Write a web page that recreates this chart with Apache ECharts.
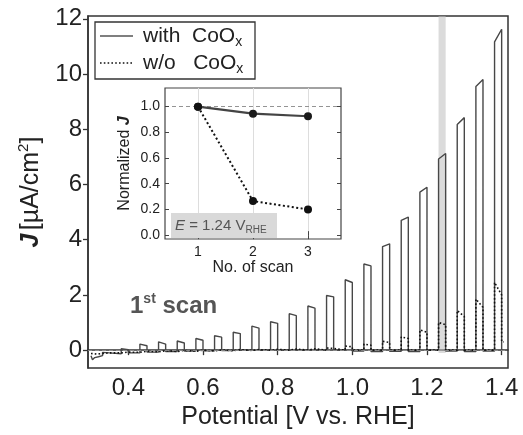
<!DOCTYPE html>
<html>
<head>
<meta charset="utf-8">
<script src="https://cdn.jsdelivr.net/npm/echarts@6/dist/echarts.min.js"></script>
<style>html,body{margin:0;padding:0;background:#fff}#c{width:523px;height:435px}</style>
</head>
<body>
<div id="c"></div>
<script>
// ---- main chart data (chopped-light LSV, 1st scan) ----
const pulseOn  = [0.331,0.381,0.431,0.481,0.531,0.581,0.631,0.681,0.731,0.781,0.831,0.881,0.931,0.981,1.031,1.081,1.131,1.181,1.231,1.281,1.331,1.381];
const pulseOff = [0.35,0.40,0.45,0.50,0.55,0.60,0.65,0.70,0.75,0.80,0.85,0.90,0.95,1.00,1.05,1.10,1.15,1.20,1.25,1.30,1.35,1.40];
// with CoOx
const withStartX = [0.300,0.304,0.310,0.320];
const withStartY = [-0.20,-0.35,-0.27,-0.24];
const withDark   = [-0.20,-0.13,-0.10,-0.07,-0.05,-0.03,-0.02,-0.01,0.00,0.00,0.00,0.00,0.00,0.00,-0.03,-0.05,-0.04,-0.05,0.00,-0.03,-0.05,-0.03];
const withTopS   = [-0.08,0.05,0.22,0.30,0.33,0.42,0.52,0.65,0.87,1.03,1.32,1.60,1.98,2.55,3.12,3.75,4.70,5.72,6.92,8.17,9.55,11.16];
const withTopE   = [-0.10,0.02,0.16,0.22,0.26,0.36,0.47,0.60,0.80,0.97,1.25,1.52,1.93,2.45,3.05,3.85,4.82,5.90,7.12,8.42,9.80,11.62];
const withTailX  = [1.405];
const withTailY  = [0.00];
// w/o CoOx
const woStartX = [0.300,0.315];
const woStartY = [-0.12,-0.14];
const woDark   = [-0.12,-0.10,-0.08,-0.06,-0.05,-0.04,-0.03,-0.02,-0.01,0.00,0.00,0.00,0.00,0.00,0.00,0.00,0.00,0.00,0.00,0.00,0.00,0.00];
const woTopS   = [-0.08,-0.05,-0.02,0.00,0.01,0.02,0.02,0.03,0.03,0.04,0.05,0.06,0.08,0.15,0.22,0.32,0.48,0.73,1.00,1.43,1.85,2.45];
const woTopE   = [-0.10,-0.07,-0.04,-0.02,-0.01,0.00,0.01,0.02,0.02,0.03,0.04,0.05,0.06,0.12,0.18,0.28,0.42,0.65,0.92,1.22,1.55,2.00];
const woTailX  = [1.405];
const woTailY  = [0.30];
const bandX = [1.231, 1.25];
const bandY = [-0.1, 12.1];
const xTicks = [0.4,0.6,0.8,1.0,1.2,1.4];
const yTicks = [0,2,4,6,8,10,12];
// ---- inset data ----
const scanNo = [1,2,3];
const normWith = [1.0,0.945,0.925];
const normWo   = [1.0,0.265,0.20];
const insetXTicks = [1,2,3];
const insetYTicks = [0,0.2,0.4,0.6,0.8,1.0];

function buildTrace(sx, sy, dark, ts, te, tx, ty) {
  const pts = sx.map((x,i)=>[x, sy[i]]);
  for (let i=0;i<pulseOn.length;i++) {
    pts.push([pulseOn[i], dark[i]]);
    pts.push([pulseOn[i], ts[i]]);
    pts.push([pulseOff[i], te[i]]);
    const next = i+1<pulseOn.length ? dark[i+1] : ty[0];
    pts.push([pulseOff[i], next]);
  }
  tx.forEach((x,i)=>pts.push([x, ty[i]]));
  return pts;
}
const withData = buildTrace(withStartX, withStartY, withDark, withTopS, withTopE, withTailX, withTailY);
const woData = buildTrace(woStartX, woStartY, woDark, woTopS, woTopE, woTailX, woTailY);

const FF = '"Liberation Sans", Arial, Helvetica, sans-serif';
const AX = '#333';

const chart = echarts.init(document.getElementById('c'), null, {renderer:'canvas'});
chart.setOption({
  animation:false,
  backgroundColor:'#fff',
  textStyle:{fontFamily:FF},
  grid:[
    {left:88, top:16, width:420, height:355, show:true, borderColor:AX, borderWidth:1.5, backgroundColor:'transparent'},
    {left:165, top:88, width:176, height:151, show:true, borderColor:'#444', borderWidth:1.2, backgroundColor:'#fff', z:5}
  ],
  xAxis:[
    {type:'value', gridIndex:0, min:0.292, max:1.417,
     axisLine:{lineStyle:{color:AX,width:1.5}},
     axisTick:{customValues:xTicks, length:5, lineStyle:{color:AX,width:1.3}},
     axisLabel:{customValues:xTicks, formatter:v=>v.toFixed(1), fontSize:24, color:'#222', margin:8, fontFamily:FF},
     splitLine:{show:false},
     name:'Potential [V vs. RHE]', nameLocation:'middle', nameGap:34,
     nameTextStyle:{fontSize:25, color:'#222', fontFamily:FF}},
    {type:'value', gridIndex:1, min:0.4, max:3.6, z:6,
     axisLine:{show:false},
     axisTick:{customValues:insetXTicks, inside:true, length:4, lineStyle:{color:'#444'}},
     axisLabel:{customValues:insetXTicks, fontSize:14, color:'#222', margin:6, fontFamily:FF},
     splitLine:{show:false},
     name:'No. of scan', nameLocation:'middle', nameGap:21,
     nameTextStyle:{fontSize:16, color:'#222', fontFamily:FF}},
    {type:'value', gridIndex:1, min:0.4, max:3.6, position:'top', z:6,
     axisLine:{show:false},
     axisTick:{customValues:insetXTicks, inside:true, length:4, lineStyle:{color:'#444'}},
     axisLabel:{show:false}, splitLine:{show:false}}
  ],
  yAxis:[
    {type:'value', gridIndex:0, min:-0.65, max:12.1,
     axisLine:{lineStyle:{color:AX,width:1.5}},
     axisTick:{customValues:yTicks, length:5, lineStyle:{color:AX,width:1.3}},
     axisLabel:{customValues:yTicks, fontSize:24, color:'#222', margin:6, fontFamily:FF},
     splitLine:{show:false},
     name:'{j|J} {t|[µA/cm}{s|2}{t|]}', nameLocation:'middle', nameRotate:90, nameGap:42,
     nameTextStyle:{rich:{
       j:{fontSize:25, fontWeight:'bold', fontStyle:'italic', color:'#222', fontFamily:FF, lineHeight:30},
       t:{fontSize:25, color:'#222', fontFamily:FF, lineHeight:30},
       s:{fontSize:15, color:'#222', fontFamily:FF, verticalAlign:'top', lineHeight:15}}}},
    {type:'value', gridIndex:1, min:-0.03, max:1.145, z:6,
     axisLine:{show:false},
     axisTick:{customValues:insetYTicks, inside:true, length:4, lineStyle:{color:'#444'}},
     axisLabel:{customValues:insetYTicks, formatter:v=>v.toFixed(1), fontSize:14, color:'#222', margin:5, fontFamily:FF},
     splitLine:{show:false},
     name:'{t|Normalized }{j|J}', nameLocation:'middle', nameRotate:90, nameGap:32,
     nameTextStyle:{rich:{
       t:{fontSize:16, color:'#222', fontFamily:FF},
       j:{fontSize:16, fontWeight:'bold', fontStyle:'italic', color:'#222', fontFamily:FF}}}},
    {type:'value', gridIndex:1, min:-0.03, max:1.145, position:'right', z:6,
     axisLine:{show:false},
     axisTick:{customValues:insetYTicks, inside:true, length:4, lineStyle:{color:'#444'}},
     axisLabel:{show:false}, splitLine:{show:false}}
  ],
  series:[
    {type:'line', name:'with CoOx', xAxisIndex:0, yAxisIndex:0, data:withData, showSymbol:false, symbol:'none',
     lineStyle:{color:'#474747', width:1.4}, silent:true, z:3,
     markArea:{silent:true, itemStyle:{color:'rgba(190,190,190,0.55)'},
       data:[[{xAxis:bandX[0], yAxis:bandY[0]},{xAxis:bandX[1], yAxis:bandY[1]}]]}},
    {type:'line', name:'w/o CoOx', xAxisIndex:0, yAxisIndex:0, data:woData, showSymbol:false, symbol:'none',
     lineStyle:{color:'#111', width:1.6, type:[1.6,2.2]}, silent:true, z:4,
     markLine:{silent:true, symbol:'none', label:{show:false},
       lineStyle:{color:'#999', width:0.8, type:[4,3]}, data:[{yAxis:0}]}},
    {type:'line', xAxisIndex:1, yAxisIndex:1, data:scanNo.map((x,i)=>[x,normWith[i]]),
     symbol:'circle', symbolSize:8, itemStyle:{color:'#1a1a1a'}, lineStyle:{color:'#444', width:2.2}, z:8, silent:true,
     markLine:{silent:true, symbol:'none', label:{show:false}, lineStyle:{color:'#ddd', width:1, type:'solid'},
       data:insetXTicks.map(v=>({xAxis:v}))}},
    {type:'line', xAxisIndex:1, yAxisIndex:1, data:scanNo.map((x,i)=>[x,normWo[i]]),
     symbol:'circle', symbolSize:8, itemStyle:{color:'#111'}, lineStyle:{color:'#111', width:2, type:[2,2.5]}, z:8, silent:true,
     markLine:{silent:true, symbol:'none', label:{show:false}, lineStyle:{color:'#888', width:0.9, type:[4,3]},
       data:[{yAxis:1}]}}
  ],
  graphic:[
    {type:'rect', shape:{x:95,y:22,width:160,height:57}, style:{fill:'#fff', stroke:'#333', lineWidth:1.3}, z:10},
    {type:'line', shape:{x1:100,y1:36,x2:133,y2:36}, style:{stroke:'#555', lineWidth:1.3}, z:11},
    {type:'line', shape:{x1:100,y1:63,x2:133,y2:63}, style:{stroke:'#111', lineWidth:1.6, lineDash:[1.6,2.2]}, z:11},
    {type:'text', x:143, y:36, z:11, style:{text:'{t|with  CoO}{b|x}', verticalAlign:'middle', align:'left',
      rich:{t:{fontSize:21, fill:'#222', fontFamily:FF, lineHeight:26},
            b:{fontSize:14, fill:'#222', fontFamily:FF, lineHeight:14, verticalAlign:'bottom'}}}},
    {type:'text', x:143, y:63, z:11, style:{text:'{t|w/o   CoO}{b|x}', verticalAlign:'middle', align:'left',
      rich:{t:{fontSize:21, fill:'#222', fontFamily:FF, lineHeight:26},
            b:{fontSize:14, fill:'#222', fontFamily:FF, lineHeight:14, verticalAlign:'bottom'}}}},
    {type:'text', x:130, y:306, z:11, style:{text:'{t|1}{s|st}{t| scan}', verticalAlign:'middle', align:'left',
      rich:{t:{fontSize:24, fontWeight:'bold', fill:'#555', fontFamily:FF, lineHeight:28},
            s:{fontSize:14, fontWeight:'bold', fill:'#555', fontFamily:FF, lineHeight:14, verticalAlign:'top'}}}},
    {type:'rect', shape:{x:171,y:213,width:106,height:25}, style:{fill:'#d9d9d9'}, z:7},
    {type:'text', x:175, y:226, z:9, style:{text:'{e|E}{t| = 1.24 V}{b|RHE}', verticalAlign:'middle', align:'left',
      rich:{e:{fontSize:15, fontStyle:'italic', fill:'#555', fontFamily:FF, lineHeight:18},
            t:{fontSize:15, fill:'#555', fontFamily:FF, lineHeight:18},
            b:{fontSize:10, fill:'#555', fontFamily:FF, lineHeight:10, verticalAlign:'bottom'}}}}
  ]
});
</script>
</body>
</html>
